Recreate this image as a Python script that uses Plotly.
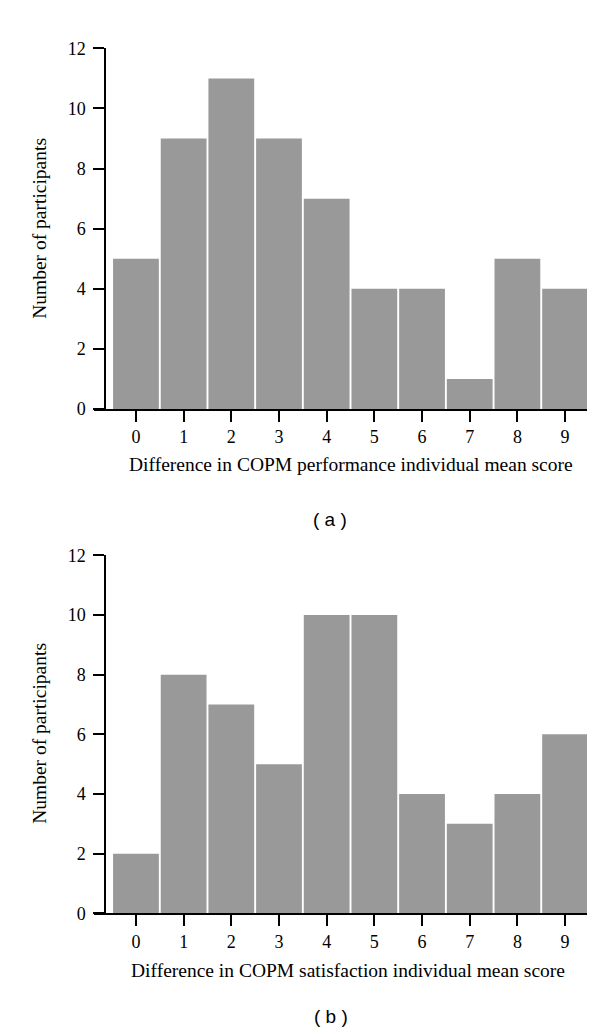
import plotly.graph_objects as go

categories = [0, 1, 2, 3, 4, 5, 6, 7, 8, 9]
performance_counts = [5, 9, 11, 9, 7, 4, 4, 1, 5, 4]
satisfaction_counts = [2, 8, 7, 5, 10, 10, 4, 3, 4, 6]
y_ticks = [0, 2, 4, 6, 8, 10, 12]
title_a = "Difference in COPM performance individual mean score"
title_b = "Difference in COPM satisfaction individual mean score"
y_title = "Number of participants"
panel_a = "( a )"
panel_b = "( b )"

W, H = 600, 1032
BAR = "#999999"
SERIF = "Liberation Serif, Times New Roman, serif"
SANS = "Liberation Sans, Arial, sans-serif"

def px_y(p):
    return 1 - p / H

x_dom = [86 / W, 579 / W]
yaxis_pos = 97 / W

fig = go.Figure()
fig.add_trace(go.Bar(x=categories, y=performance_counts, marker=dict(color=BAR, line=dict(width=0)),
                     xaxis="x", yaxis="y", showlegend=False))
fig.add_trace(go.Bar(x=categories, y=satisfaction_counts, marker=dict(color=BAR, line=dict(width=0)),
                     xaxis="x2", yaxis="y2", showlegend=False))

xcommon = dict(range=[-0.88, 9.46], tickvals=categories, ticktext=[str(c) for c in categories],
               showgrid=False, zeroline=False, showline=True, linecolor="black", linewidth=1.5,
               ticks="outside", ticklen=11, tickwidth=1.5, tickcolor="black",
               tickfont=dict(family=SERIF, size=18, color="black"), domain=x_dom, fixedrange=True)
ycommon = dict(range=[0, 12], tickvals=y_ticks, showgrid=False, zeroline=False, showline=True,
               linecolor="black", linewidth=1.5, ticks="outside", ticklen=11, tickwidth=1.5,
               tickcolor="black", tickfont=dict(family=SERIF, size=18, color="black"),
               anchor="free", position=yaxis_pos, ticklabelstandoff=4, fixedrange=True)

fig.update_layout(
    width=W, height=H, margin=dict(l=0, r=0, t=0, b=0),
    paper_bgcolor="white", plot_bgcolor="white", bargap=0.04,
    xaxis=dict(**xcommon, anchor="y"),
    yaxis=dict(**ycommon, domain=[px_y(398.7), px_y(31)]),
    xaxis2=dict(**xcommon, anchor="y2"),
    yaxis2=dict(**ycommon, domain=[px_y(913), px_y(548)]),
)

ann = []
ann.append(dict(text=title_a, x=343 / W, y=px_y(455), xref="paper", yref="paper", showarrow=False,
                xanchor="center", yanchor="middle", font=dict(family=SERIF, size=19.5, color="black")))
ann.append(dict(text=title_b, x=340 / W, y=px_y(971), xref="paper", yref="paper", showarrow=False,
                xanchor="center", yanchor="middle", font=dict(family=SERIF, size=19.5, color="black")))
ann.append(dict(text=y_title, x=32 / W, y=px_y(215), xref="paper", yref="paper", showarrow=False,
                textangle=-90, xanchor="center", yanchor="middle", font=dict(family=SERIF, size=19.5, color="black")))
ann.append(dict(text=y_title, x=32 / W, y=px_y(730), xref="paper", yref="paper", showarrow=False,
                textangle=-90, xanchor="center", yanchor="middle", font=dict(family=SERIF, size=19.5, color="black")))
ann.append(dict(text=panel_a, x=322 / W, y=px_y(511), xref="paper", yref="paper", showarrow=False,
                xanchor="center", yanchor="middle", font=dict(family=SANS, size=19, color="black")))
ann.append(dict(text=panel_b, x=323 / W, y=px_y(1018), xref="paper", yref="paper", showarrow=False,
                xanchor="center", yanchor="middle", font=dict(family=SANS, size=19, color="black")))
fig.update_layout(annotations=ann)

fig.write_html("out.html")
